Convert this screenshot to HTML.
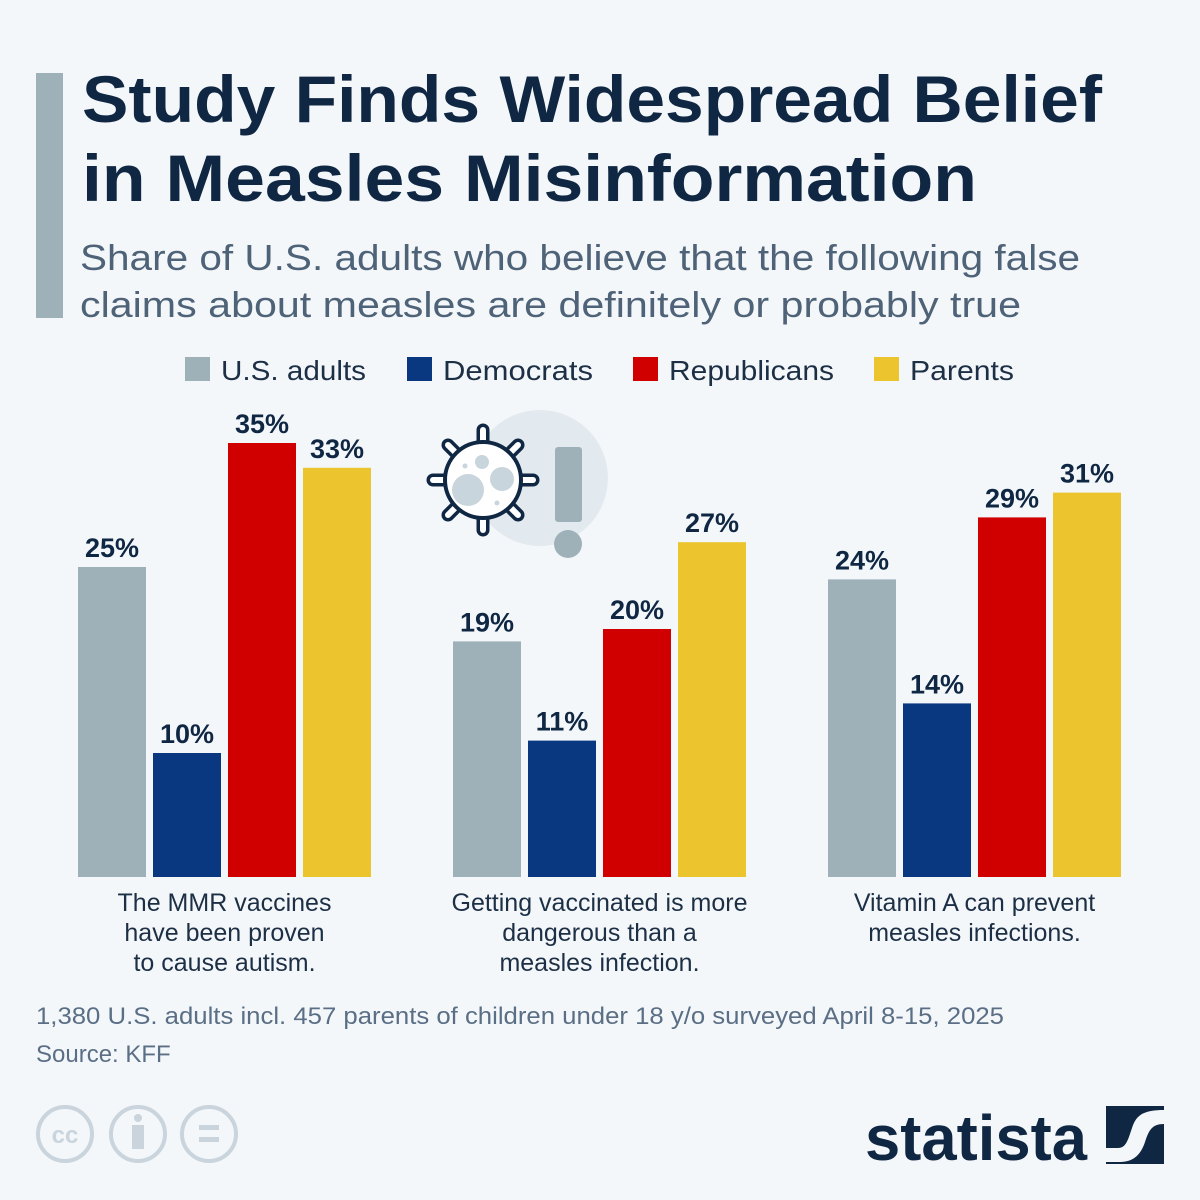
<!DOCTYPE html>
<html><head><meta charset="utf-8">
<style>
html,body{margin:0;padding:0;background:#f4f7fa;}
svg{display:block;font-family:"Liberation Sans",sans-serif;}
</style></head>
<body>
<svg id="chart" width="1200" height="1200" viewBox="0 0 1200 1200" xmlns="http://www.w3.org/2000/svg">
<rect width="1200" height="1200" fill="#f4f7fa"/>
<rect x="36" y="73" width="27" height="245" fill="#9eb1b9"/>
<g fill="#0f2742" font-weight="bold" font-size="66">
<text x="82" y="122" textLength="1020" lengthAdjust="spacingAndGlyphs">Study Finds Widespread Belief</text>
<text x="82" y="201" textLength="895" lengthAdjust="spacingAndGlyphs">in Measles Misinformation</text>
</g>
<g fill="#4f6378" font-size="36">
<text x="80" y="270" textLength="1000" lengthAdjust="spacingAndGlyphs">Share of U.S. adults who believe that the following false</text>
<text x="80" y="317" textLength="941" lengthAdjust="spacingAndGlyphs">claims about measles are definitely or probably true</text>
</g>
<g id="legend" font-size="28" fill="#1c2f45"></g>
<g id="icon">
<circle cx="540" cy="478" r="68" fill="#e3eaef"/>
<g id="spikes" stroke-linecap="round">
<g stroke="#0f2742" stroke-width="13">
<line x1="483" y1="480" x2="433" y2="480"/><line x1="483" y1="480" x2="533" y2="480"/>
<line x1="483" y1="480" x2="483" y2="430"/><line x1="483" y1="480" x2="483" y2="530"/>
<line x1="483" y1="480" x2="448" y2="445"/><line x1="483" y1="480" x2="518" y2="515"/>
<line x1="483" y1="480" x2="518" y2="445"/><line x1="483" y1="480" x2="448" y2="515"/>
</g>
<g stroke="#fff" stroke-width="6">
<line x1="483" y1="480" x2="433" y2="480"/><line x1="483" y1="480" x2="533" y2="480"/>
<line x1="483" y1="480" x2="483" y2="430"/><line x1="483" y1="480" x2="483" y2="530"/>
<line x1="483" y1="480" x2="448" y2="445"/><line x1="483" y1="480" x2="518" y2="515"/>
<line x1="483" y1="480" x2="518" y2="445"/><line x1="483" y1="480" x2="448" y2="515"/>
</g>
</g>
<circle cx="483" cy="480" r="38" fill="#fff" stroke="#0f2742" stroke-width="4"/>
<circle cx="468" cy="490" r="16" fill="#c9d5dc"/>
<circle cx="502" cy="479" r="12" fill="#c9d5dc"/>
<circle cx="482" cy="462" r="7" fill="#c9d5dc"/>
<circle cx="465" cy="466" r="2.5" fill="#c9d5dc"/>
<circle cx="497" cy="503" r="2.5" fill="#c9d5dc"/>
<rect x="555" y="447" width="27" height="75" rx="3" fill="#9eb1b9"/>
<circle cx="568" cy="544" r="14" fill="#9eb1b9"/>
</g>
<g id="bars"></g>
<g id="cats" font-size="25" fill="#1c2f45" text-anchor="middle"></g>
<g font-size="24" fill="#5a6f85">
<text x="36" y="1024" textLength="968" lengthAdjust="spacingAndGlyphs">1,380 U.S. adults incl. 457 parents of children under 18 y/o surveyed April 8-15, 2025</text>
<text x="36" y="1062">Source: KFF</text>
</g>
<g fill="none" stroke="#c9d4dc" stroke-width="4">
<circle cx="65" cy="1134" r="27"/><circle cx="138" cy="1134" r="27"/><circle cx="209" cy="1134" r="27"/>
<text x="65" y="1143" font-size="24" font-weight="bold" fill="#c9d4dc" stroke="none" text-anchor="middle">cc</text>
<circle cx="138" cy="1118" r="4" fill="#c9d4dc" stroke="none"/>
<rect x="132" y="1125" width="12" height="24" fill="#c9d4dc" stroke="none"/>
<rect x="199" y="1125" width="20" height="5" fill="#c9d4dc" stroke="none"/>
<rect x="199" y="1137" width="20" height="5" fill="#c9d4dc" stroke="none"/>
</g>
<g>
<text x="865" y="1160" font-size="64" font-weight="bold" fill="#0f2742" textLength="222" lengthAdjust="spacingAndGlyphs">statista</text>
<rect x="1106" y="1106" width="58" height="58" fill="#0f2742"/>
<path d="M1106 1148 L1118 1148 C1126 1148 1128 1140 1132 1128 C1136 1116 1142 1110 1164 1110 L1164 1124 C1152 1124 1149 1130 1145 1142 C1141 1154 1134 1162 1120 1162 L1106 1162 Z" fill="#f4f7fa"/>
</g>
</svg>
<script>
const categories = [["The MMR vaccines","have been proven","to cause autism."],["Getting vaccinated is more","dangerous than a","measles infection."],["Vitamin A can prevent","measles infections."]];
const seriesNames = ["U.S. adults","Democrats","Republicans","Parents"];
const usAdults = [25,19,24];
const democrats = [10,11,14];
const republicans = [35,20,29];
const parents = [33,27,31];
const colors = ["#9eb1b9","#0a3880","#d10000","#ebc42e"];
const NS = "http://www.w3.org/2000/svg";
const baseY = 877, pxPer = 12.4;
const y = v => baseY - v * pxPer;
const groupX = i => 78 + i * 375;
const barX = (g, s) => groupX(g) + s * 75;
const barW = 68;
const series = [usAdults, democrats, republicans, parents];
const bars = document.getElementById('bars');
series.forEach((vals, s) => {
  vals.forEach((v, g) => {
    const r = document.createElementNS(NS, 'rect');
    r.setAttribute('x', barX(g, s)); r.setAttribute('y', y(v));
    r.setAttribute('width', barW); r.setAttribute('height', baseY - y(v));
    r.setAttribute('fill', colors[s]);
    
    
    bars.appendChild(r);
    const t = document.createElementNS(NS, 'text');
    t.setAttribute('x', barX(g, s) + barW / 2); t.setAttribute('y', y(v) - 10);
    t.setAttribute('text-anchor', 'middle'); t.setAttribute('font-size', '27');
    t.setAttribute('font-weight', 'bold'); t.setAttribute('fill', '#0f2742');
    t.textContent = v + '%';
    
    
    bars.appendChild(t);
  });
});
const cats = document.getElementById('cats');
categories.forEach((lines, g) => {
  lines.forEach((ln, k) => {
    const t = document.createElementNS(NS, 'text');
    t.setAttribute('x', groupX(g) + 146.5); t.setAttribute('y', 911 + k * 30);
    t.textContent = ln;
    
    
    cats.appendChild(t);
  });
});
const legend = document.getElementById('legend');
const legX = [185, 407, 633, 874];
const legW = [145, 150, 165, 104];
seriesNames.forEach((n, s) => {
  const r = document.createElementNS(NS, 'rect');
  r.setAttribute('x', legX[s]); r.setAttribute('y', 357); r.setAttribute('width', 25); r.setAttribute('height', 24);
  r.setAttribute('fill', colors[s]);
  
  
  legend.appendChild(r);
  const t = document.createElementNS(NS, 'text');
  t.setAttribute('x', legX[s] + 36); t.setAttribute('y', 380);
  t.setAttribute('textLength', legW[s]); t.setAttribute('lengthAdjust', 'spacingAndGlyphs');
  t.textContent = n;
  
  
  legend.appendChild(t);
});
</script>
</body></html>
